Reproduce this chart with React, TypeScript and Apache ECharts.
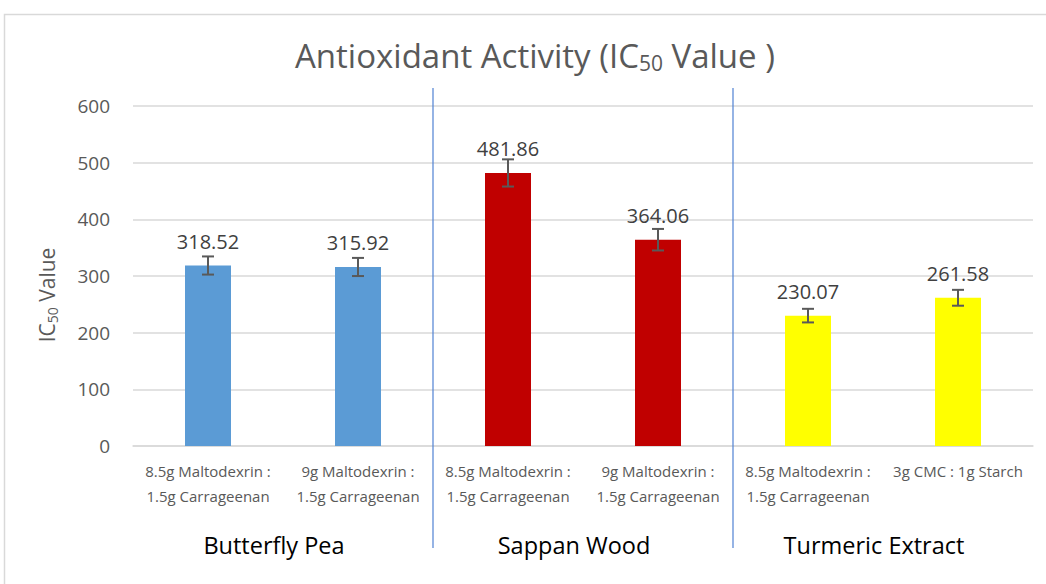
import React, { useEffect, useRef } from "react";
import * as echarts from "echarts";

const categories = [
  "8.5g Maltodexrin :\n1.5g Carrageenan",
  "9g Maltodexrin :\n1.5g Carrageenan",
  "8.5g Maltodexrin :\n1.5g Carrageenan",
  "9g Maltodexrin :\n1.5g Carrageenan",
  "8.5g Maltodexrin :\n1.5g Carrageenan",
  "3g CMC : 1g Starch",
];
const groups = ["Butterfly Pea", "Sappan Wood", "Turmeric Extract"];
const values = [318.52, 315.92, 481.86, 364.06, 230.07, 261.58];
const errors = [16, 16, 24, 19, 12, 14];
const groupOfBar = [0, 0, 1, 1, 2, 2];
const separatorsAfter = [1, 3];
const yTicks = { min: 0, max: 600, interval: 100 };

const groupColors = ["#5B9BD5", "#C00000", "#FFFF00"];
const FONT = "'Open Sans', Lato, sans-serif";

export default function App() {
  const ref = useRef<HTMLDivElement>(null);
  useEffect(() => {
    if (!ref.current) return;
    const chart = echarts.init(ref.current, undefined, { renderer: "svg" });
    const option: any = {
      animation: false,
      backgroundColor: "#ffffff",
      textStyle: { fontFamily: FONT },
      title: {
        text: "{m|Antioxidant Activity (IC}{s|50}{m| Value )}",
        left: 290,
        top: 32,
        textStyle: {
          fontWeight: "normal",
          rich: {
            m: { fontSize: 33, color: "#595959", fontFamily: FONT, fontWeight: "normal" },
            s: { fontSize: 21, color: "#595959", fontFamily: FONT, fontWeight: "normal", padding: [15, 0, 0, 0] },
          },
        },
      },
      graphic: [
        {
          type: "rect",
          shape: { x: 4.5, y: 14.5, width: 1100, height: 640 },
          style: { fill: "none", stroke: "#d9d9d9", lineWidth: 1.5 },
          silent: true,
          z: -1,
        },
      ],
      grid: { left: 133, right: 13, top: 106, bottom: 138 },
      xAxis: [
        {
          type: "category",
          data: categories,
          axisLine: { show: true, lineStyle: { color: "#d9d9d9", width: 1.5 } },
          axisTick: { show: false },
          axisLabel: {
            interval: 0,
            margin: 12,
            fontSize: 15,
            lineHeight: 25,
            color: "#595959",
            fontFamily: FONT,
          },
        },
        {
          type: "category",
          data: groups,
          position: "bottom",
          offset: 87,
          axisLine: { show: false },
          axisTick: { show: false },
          axisLabel: {
            interval: 0,
            fontSize: 23.5,
            color: "#000000",
            fontFamily: FONT,
            margin: 0,
            padding: [0, 18, 0, 0],
          },
        },
      ],
      yAxis: {
        type: "value",
        min: yTicks.min,
        max: yTicks.max,
        interval: yTicks.interval,
        axisLine: { show: false },
        axisTick: { show: false },
        axisLabel: { fontSize: 19, color: "#595959", margin: 23, fontFamily: FONT },
        splitLine: { lineStyle: { color: "#d9d9d9", width: 1.5 } },
        name: "{m|IC}{s|50}{m| Value}",
        nameLocation: "middle",
        nameGap: 74,
        nameRotate: 90,
        nameTextStyle: {
          padding: [0, 38, 0, 0],
          rich: {
            m: { fontSize: 21, color: "#595959", fontFamily: FONT },
            s: { fontSize: 14, color: "#595959", fontFamily: FONT, padding: [10, 0, 0, 0] },
          },
        },
      },
      series: [
        {
          type: "bar",
          barWidth: 46,
          data: values.map((v, i) => ({
            value: v,
            itemStyle: { color: groupColors[groupOfBar[i]] },
          })),
          label: {
            show: true,
            position: "top",
            distance: 14,
            fontSize: 20,
            color: "#404040",
            fontFamily: FONT,
            formatter: (p: any) => p.value.toFixed(2),
          },
        },
        {
          type: "custom",
          data: values.map((v, i) => [i, v - errors[i], v + errors[i]]),
          z: 5,
          renderItem: (params: any, api: any) => {
            const i = api.value(0);
            const lo = api.coord([i, api.value(1)]);
            const hi = api.coord([i, api.value(2)]);
            const x = lo[0];
            const c = 6;
            const style = { stroke: "#595959", lineWidth: 2 };
            return {
              type: "group",
              children: [
                { type: "line", shape: { x1: x, y1: lo[1], x2: x, y2: hi[1] }, style },
                { type: "line", shape: { x1: x - c, y1: lo[1], x2: x + c, y2: lo[1] }, style },
                { type: "line", shape: { x1: x - c, y1: hi[1], x2: x + c, y2: hi[1] }, style },
              ],
            };
          },
        },
        {
          type: "custom",
          data: separatorsAfter.map((i) => [i]),
          clip: false,
          renderItem: (params: any, api: any) => {
            const i = api.value(0);
            const p = api.coord([i, yTicks.max]);
            const p0 = api.coord([i, yTicks.min]);
            const w = api.size([1, 0])[0];
            const x = Math.round(p[0] + w / 2);
            return {
              type: "line",
              shape: { x1: x, y1: p[1] - 18, x2: x, y2: p0[1] + 102 },
              style: { stroke: "#4F81D3", lineWidth: 1.2, fill: null },
            };
          },
        },
      ],
    };
    chart.setOption(option);
    return () => chart.dispose();
  }, []);
  return (
    <div
      ref={ref}
      style={{ position: "fixed", left: 0, top: 0, width: 1046, height: 584 }}
    />
  );
}
